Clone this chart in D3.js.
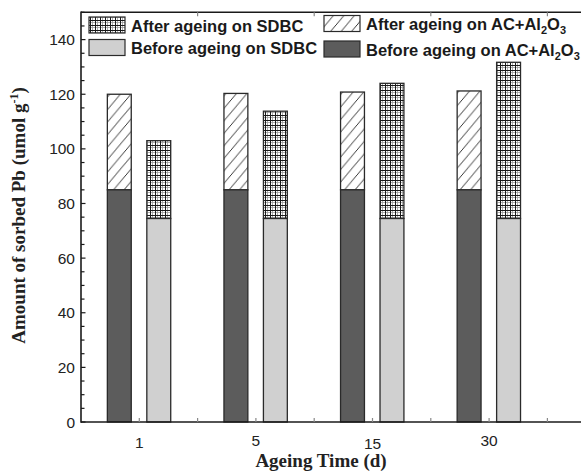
<!DOCTYPE html>
<html>
<head>
<meta charset="utf-8">
<script src="https://cdn.jsdelivr.net/npm/d3@7"></script>
<style>
  html, body { margin: 0; padding: 0; background: #fff; overflow: hidden; }
  svg { display: block; overflow: hidden; }
</style>
</head>
<body>
<svg id="chart" width="581" height="476"></svg>
<script>
// Ageing time categories (days)
const categories = ["1", "5", "15", "30"];
// Pb sorbed on AC+Al2O3, before ageing and after ageing (stack tops)
const beforeAC = [85, 85, 85, 85];
const afterAC = [120, 120.3, 120.8, 121.2];
// Pb sorbed on SDBC, before ageing and after ageing (stack tops)
const beforeSDBC = [74.5, 74.5, 74.5, 74.5];
const afterSDBC = [103, 113.8, 124, 131.7];
// Y axis ticks
const yMajorTicks = [0, 20, 40, 60, 80, 100, 120, 140];
const yMinorTicks = d3.range(0, 151, 5);

const W = 581, H = 476;
const svg = d3.select("#chart");
const plotLeft = 81, plotBottom = 422, plotTop = 12.3;

// white page background
svg.append("rect").attr("width", W).attr("height", H).attr("fill", "#fff");

// x positions: categories sit at odd slots 1,3,5,7 on a 0..9 linear axis
const x = d3.scaleLinear().domain([0, 9]).range([plotLeft, plotLeft + 9 * 58.3]);
const y = d3.scaleLinear().domain([0, 150]).range([plotBottom, plotTop]);
const slot = i => 2 * i + 1;

const barW = x(0.41) - x(0);
const offAC = -0.343, offSD = 0.334;

// patterns
const defs = svg.append("defs");
const hatch = defs.append("pattern")
  .attr("id", "hatch").attr("patternUnits", "userSpaceOnUse")
  .attr("width", 10.5).attr("height", 12.5);
hatch.append("rect").attr("width", 10.5).attr("height", 12.5).attr("fill", "#fff");
hatch.append("path").attr("d", "M-1,13.7 L11.5,-1.2 M-11.5,13.7 L1,-1.2 M9.5,26.2 L22,11.3")
  .attr("stroke", "#222").attr("stroke-width", 0.9);

const grid = defs.append("pattern")
  .attr("id", "grid").attr("patternUnits", "userSpaceOnUse")
  .attr("width", 5).attr("height", 5);
grid.append("rect").attr("width", 5).attr("height", 5).attr("fill", "#fff");
grid.append("path").attr("d", "M2.5,0 V5 M0,2.5 H5").attr("stroke", "#9a9a9a").attr("stroke-width", 0.8);
grid.append("path").attr("d", "M0.5,0 V5 M0,0.5 H5").attr("stroke", "#1a1a1a").attr("stroke-width", 1);

const root = svg.append("g");
const stroke = "#2a2a2a";

// draws one stacked column: lower "before" segment, upper "after" segment
function column(i, off, lo, hi, fillLo, fillHi) {
  const cx = x(slot(i) + off);
  root.append("rect")
    .attr("x", cx - barW / 2).attr("width", barW)
    .attr("y", y(hi)).attr("height", y(lo) - y(hi))
    .attr("fill", fillHi).attr("stroke", stroke).attr("stroke-width", 1.3);
  root.append("rect")
    .attr("x", cx - barW / 2).attr("width", barW)
    .attr("y", y(lo)).attr("height", y(0) - y(lo))
    .attr("fill", fillLo).attr("stroke", stroke).attr("stroke-width", 1.3);
}

categories.forEach((c, i) => {
  column(i, offAC, beforeAC[i], afterAC[i], "#5c5c5c", "url(#hatch)");
  column(i, offSD, beforeSDBC[i], afterSDBC[i], "#d0d0d0", "url(#grid)");
});

// frame: left, top and bottom edges, running off the right side of the view
const axisColor = "#1a1a1a";
root.append("line").attr("x1", plotLeft).attr("x2", W + 2).attr("y1", plotTop).attr("y2", plotTop)
  .attr("stroke", axisColor).attr("stroke-width", 1.6);
root.append("line").attr("x1", plotLeft).attr("x2", W + 2).attr("y1", plotBottom).attr("y2", plotBottom)
  .attr("stroke", axisColor).attr("stroke-width", 1.6);
root.append("line").attr("x1", plotLeft).attr("x2", plotLeft).attr("y1", plotTop - 0.8).attr("y2", plotBottom + 0.8)
  .attr("stroke", axisColor).attr("stroke-width", 1.6);

// y ticks (inward)
root.append("g").selectAll("line").data(yMinorTicks).join("line")
  .attr("x1", plotLeft).attr("x2", d => plotLeft + (yMajorTicks.includes(d) ? 4.5 : 3.5))
  .attr("y1", d => y(d)).attr("y2", d => y(d))
  .attr("stroke", axisColor).attr("stroke-width", 1.2);
root.append("g").selectAll("text").data(yMajorTicks).join("text")
  .attr("x", 75).attr("y", d => y(d)).attr("dy", "0.36em")
  .attr("text-anchor", "end")
  .attr("font-family", "Liberation Sans, Arial, sans-serif").attr("font-size", 15.5)
  .attr("fill", "#222").text(d => d);

// x ticks (inward), bottom at every slot, top at even slots
root.append("g").selectAll("line").data(d3.range(1, 9)).join("line")
  .attr("x1", d => x(d)).attr("x2", d => x(d))
  .attr("y1", plotBottom).attr("y2", plotBottom - 4)
  .attr("stroke", "#888").attr("stroke-width", 1.2);
root.append("g").selectAll("line").data([2, 4, 6, 8]).join("line")
  .attr("x1", d => x(d)).attr("x2", d => x(d))
  .attr("y1", plotTop).attr("y2", plotTop + 4)
  .attr("stroke", "#888").attr("stroke-width", 1.2);
const xLabelShift = [0.5, -1.5, 1, -1.5];
root.append("g").selectAll("text").data(categories).join("text")
  .attr("x", (d, i) => x(slot(i))).attr("y", (d, i) => 442 + xLabelShift[i]).attr("dy", "0.36em")
  .attr("text-anchor", "middle")
  .attr("font-family", "Liberation Sans, Arial, sans-serif").attr("font-size", 15.5)
  .attr("fill", "#222").text(d => d);

// axis titles
root.append("text")
  .attr("x", 321).attr("y", 467)
  .attr("text-anchor", "middle")
  .attr("font-family", "Liberation Serif, Times New Roman, serif")
  .attr("font-weight", "bold").attr("font-size", 19)
  .attr("fill", "#222").text("Ageing Time (d)");

const yt = root.append("text")
  .attr("transform", "translate(25,215.5) rotate(-90)")
  .attr("text-anchor", "middle")
  .attr("font-family", "Liberation Serif, Times New Roman, serif")
  .attr("font-weight", "bold").attr("font-size", 19)
  .attr("fill", "#222");
yt.append("tspan").text("Amount of sorbed Pb (umol g");
yt.append("tspan").attr("font-size", 12).attr("dy", -7).text("-1");
yt.append("tspan").attr("dy", 7).text(")");

// legend
const legend = [
  { x: 89, y: 17, fill: "url(#grid)", tx: 131, ty: 31.5, label: ["After ageing on SDBC"] },
  { x: 89, y: 39.5, fill: "#d0d0d0", tx: 131, ty: 54, label: ["Before ageing on SDBC"] },
  { x: 324, y: 15.5, fill: "url(#hatch)", tx: 366, ty: 29.5, label: ["After ageing on AC+Al", "2", "O", "3"] },
  { x: 324, y: 41, fill: "#5c5c5c", tx: 366, ty: 56, label: ["Before ageing on AC+Al", "2", "O", "3"] }
];
legend.forEach(l => {
  root.append("rect").attr("x", l.x).attr("y", l.y).attr("width", 36).attr("height", 16)
    .attr("fill", l.fill).attr("stroke", stroke).attr("stroke-width", 1.2);
  const t = root.append("text").attr("x", l.tx).attr("y", l.ty)
    .attr("font-family", "Liberation Sans, Arial, sans-serif")
    .attr("font-weight", "bold").attr("font-size", 16.5).attr("fill", "#1a1a1a");
  l.label.forEach((s, k) => {
    const sub = k === 1 || k === 3;
    const ts = t.append("tspan").text(s);
    if (sub) ts.attr("font-size", 11).attr("dy", 4);
    else if (k === 2) ts.attr("dy", -4);
  });
});
</script>
</body>
</html>
